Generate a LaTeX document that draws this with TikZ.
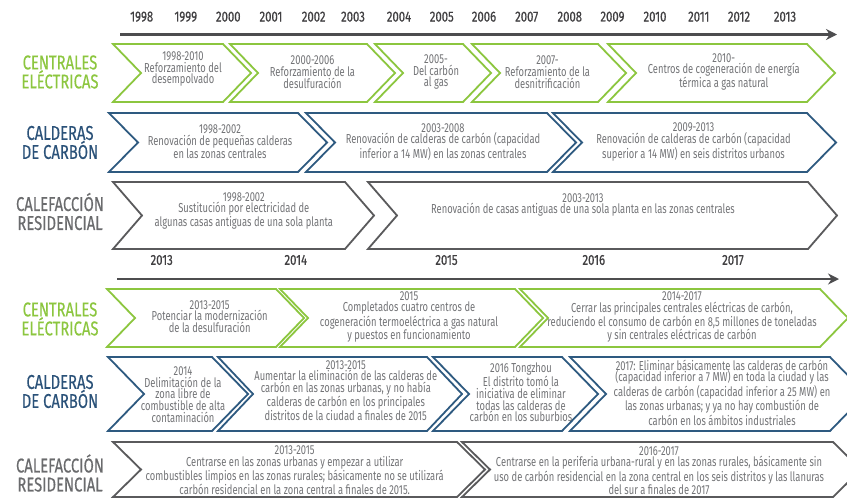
\documentclass[tikz,border=0pt]{standalone}
\usepackage{fontspec}
\setmainfont{Fira Sans}[FakeStretch=0.72,Numbers=Lining]
\newfontfamily\yearfont{Fira Sans}[FakeStretch=0.78,FakeBold=0.7,Numbers=Lining]
\newfontfamily\labfont{Fira Sans}[FakeStretch=0.74,FakeBold=0.4]
\usetikzlibrary{arrows.meta}
\definecolor{cgreen}{HTML}{8CC63F}
\definecolor{cblue}{HTML}{2E5A80}
\definecolor{lblue}{HTML}{2B5279}
\definecolor{cgray}{HTML}{5A5A5C}
\definecolor{lgray}{HTML}{6A6B6D}
\definecolor{ctext}{HTML}{727376}
\definecolor{caxis}{HTML}{4D4D4F}
\definecolor{cyear}{HTML}{414042}
\newcommand\mychev[6]{%
  \draw[#1] (#2,#4) -- (#3,#4) -- ({#3+#6},{(#4+#5)/2}) -- (#3,#5) -- (#2,#5) -- ({#2+#6},{(#4+#5)/2}) -- cycle;}
\tikzset{
  gbox/.style={draw=cgreen,line width=1.8pt,line join=miter},
  bbox/.style={draw=cblue,line width=1.8pt,line join=miter},
  ybox/.style={draw=cgray,line width=1.8pt,line join=miter},
  bt/.style={align=center,inner sep=0pt,text=ctext,font=\fontsize{13}{11.7}\selectfont},
  yr/.style={inner sep=0pt,text=cyear,font=\yearfont\fontsize{14.5}{14.5}\selectfont},
  lab/.style={align=center,inner sep=0pt,font=\labfont\fontsize{20}{19}\selectfont},
  axis/.style={draw=caxis,line width=2.6pt,-{Stealth[length=11pt,width=11pt]}}
}
\begin{document}
\begin{tikzpicture}[x=1pt,y=-1pt]
\useasboundingbox (0,0) rectangle (847,499);
\clip (0,0) rectangle (847,499);
% ---------- top axis ----------
\coordinate (a1s) at (120,34.5);
\coordinate (a1e) at (837,34.5);
\draw[axis] (a1s) -- (a1e);
\node[yr] (y1998) at (141.7,16.7) {1998};
\node[yr] (y1999) at (185.8,16.7) {1999};
\node[yr] (y2000) at (228.3,16.7) {2000};
\node[yr] (y2001) at (271,16.7) {2001};
\node[yr] (y2002) at (313.7,16.7) {2002};
\node[yr] (y2003) at (353,16.7) {2003};
\node[yr] (y2004) at (399,16.7) {2004};
\node[yr] (y2005) at (441.8,16.7) {2005};
\node[yr] (y2006) at (484,16.7) {2006};
\node[yr] (y2007) at (526.7,16.7) {2007};
\node[yr] (y2008) at (569.8,16.7) {2008};
\node[yr] (y2009) at (612.5,16.7) {2009};
\node[yr] (y2010) at (655,16.7) {2010};
\node[yr] (y2011) at (698.8,16.7) {2011};
\node[yr] (y2012) at (739,16.7) {2012};
\node[yr] (y2013a) at (785,16.7) {2013};
% ---------- top labels ----------
\node[lab,text=cgreen] (l1) at (60,72) {CENTRALES\\ELÉCTRICAS};
\node[lab,text=lblue] (l2) at (60,142.5) {CALDERAS\\DE CARBÓN};
\node[lab,text=lgray] (l3) at (60,211.5) {CALEFACCIÓN\\RESIDENCIAL};
% ---------- top green ----------
\mychev{gbox}{113}{223}{44}{102}{28}
\mychev{gbox}{230}{367}{44}{102}{28}
\mychev{gbox}{375}{463}{44}{102}{28}
\mychev{gbox}{472}{598}{44}{102}{28}
\mychev{gbox}{608}{807}{44}{102}{28}
\node[bt] (g1) at (183,69) {1998-2010\\Reforzamiento del\\desempolvado};
\node[bt] (g2) at (312.5,72) {2000-2006\\Reforzamiento de la\\desulfuración};
\node[bt] (g3) at (436,72) {2005-\\Del carbón\\al gas};
\node[bt] (g4) at (547.5,72) {2007-\\Reforzamiento de la\\desnitrificación};
\node[bt] (g5) at (723.8,72) {2010-\\Centros de cogeneración de energía\\térmica a gas natural};
% ---------- top blue ----------
\mychev{bbox}{109}{298}{113}{172}{29}
\mychev{bbox}{306}{547}{113}{172}{29}
\mychev{bbox}{553}{807}{113}{172}{29}
\node[bt] (b1) at (220,142) {1998-2002\\Renovación de pequeñas calderas\\en las zonas centrales};
\node[bt] (b2) at (443,142) {2003-2008\\Renovación de calderas de carbón (capacidad\\inferior a 14 MW) en las zonas centrales};
\node[bt] (b3) at (693.5,142) {2009-2013\\Renovación de calderas de carbón (capacidad\\superior a 14 MW) en seis distritos urbanos};
% ---------- top gray ----------
\mychev{ybox}{113}{345}{182}{249}{29}
\mychev{ybox}{368}{808}{182}{249}{29}
\node[bt] (r1) at (243.8,211) {1998-2002\\Sustitución por electricidad de\\algunas casas antiguas de una sola planta};
\node[bt] (r2) at (583,205) {2003-2013\\Renovación de casas antiguas de una sola planta en las zonas centrales};
% ---------- bottom axis ----------
\coordinate (a2s) at (117,279);
\coordinate (a2e) at (839,279);
\draw[axis] (a2s) -- (a2e);
\node[yr] (y2013b) at (161.7,260) {2013};
\node[yr] (y2014) at (295.8,260) {2014};
\node[yr] (y2015) at (446.5,260) {2015};
\node[yr] (y2016) at (593.8,260) {2016};
\node[yr] (y2017) at (733,260) {2017};
% ---------- bottom labels ----------
\node[lab,text=cgreen] (l4) at (60,319) {CENTRALES\\ELÉCTRICAS};
\node[lab,text=lblue] (l5) at (60,391.5) {CALDERAS\\DE CARBÓN};
\node[lab,text=lgray] (l6) at (60,473) {CALEFACCIÓN\\RESIDENCIAL};
% ---------- bottom green ----------
\mychev{gbox}{107}{276}{289}{347}{28}
\mychev{gbox}{280}{515}{289}{347}{28}
\mychev{gbox}{520}{820}{289}{347}{28}
\node[bt] (g6) at (209.7,316.5) {2013-2015\\Potenciar la modernización\\de la desulfuración};
\node[bt] (g7) at (409,317) {2015\\Completados cuatro centros de\\cogeneración termoeléctrica a gas natural\\y puestos en funcionamiento};
\node[bt] (g8) at (682,317) {2014-2017\\Cerrar las principales centrales eléctricas de carbón,\\reduciendo el consumo de carbón en 8,5 millones de toneladas\\y sin centrales eléctricas de carbón};
% ---------- bottom blue ----------
\mychev{bbox}{108}{212}{357}{431}{36}
\mychev{bbox}{218}{427}{357}{431}{35}
\mychev{bbox}{433}{562}{357}{431}{36}
\mychev{bbox}{570}{830}{357}{431}{36}
\node[bt] (b4) at (183,394.5) {2014\\Delimitación de la\\zona libre de\\combustible de alta\\contaminación};
\node[bt] (b5) at (345.8,390.5) {2013-2015\\Aumentar la eliminación de las calderas de\\carbón en las zonas urbanas, y no había\\calderas de carbón en los principales\\distritos de la ciudad a finales de 2015};
\node[bt] (b6) at (521,392.5) {2016 Tongzhou\\El distrito tomó la\\iniciativa de eliminar\\todas las calderas de\\carbón en los suburbios};
\node[bt] (b7) at (722,392.5) {2017: Eliminar básicamente las calderas de carbón\\(capacidad inferior a 7 MW) en toda la ciudad y las\\calderas de carbón (capacidad inferior a 25 MW) en\\las zonas urbanas; y ya no hay combustión de\\carbón en los ámbitos industriales};
% ---------- bottom gray ----------
\mychev{ybox}{113}{457}{442}{497}{28}
\mychev{ybox}{462}{833}{442}{497}{28}
\node[bt] (r3) at (294.7,470.5) {2013-2015\\Centrarse en las zonas urbanas y empezar a utilizar\\combustibles limpios en las zonas rurales; básicamente no se utilizará\\carbón residencial en la zona central a finales de 2015.};
\node[bt] (r4) at (659,470.5) {2016-2017\\Centrarse en la periferia urbana-rural y en las zonas rurales, básicamente sin\\uso de carbón residencial en la zona central en los seis distritos y las llanuras\\del sur a finales de 2017};
\end{tikzpicture}
\end{document}
